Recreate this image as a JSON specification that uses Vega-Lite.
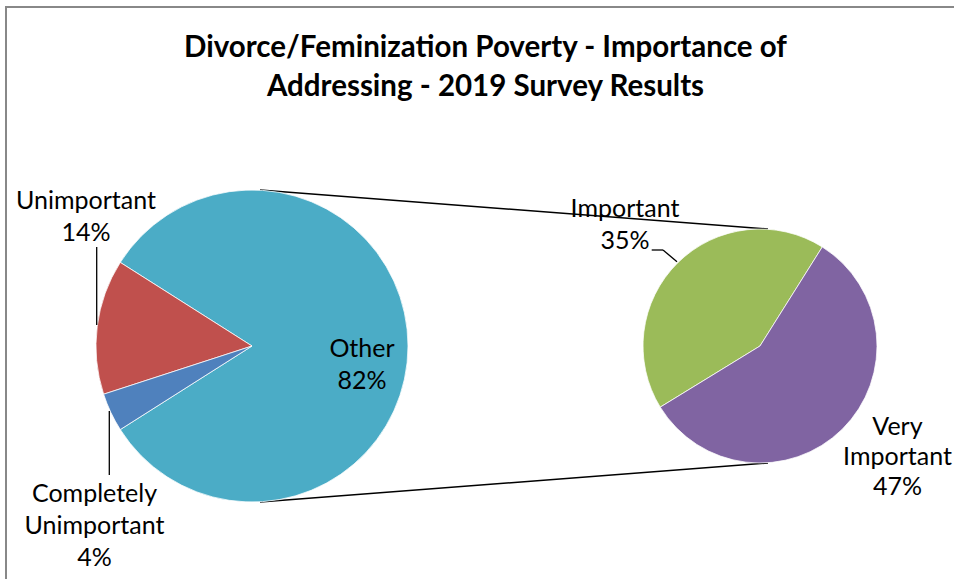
{
  "$schema": "https://vega.github.io/schema/vega-lite/v6.json",
  "width": 948,
  "height": 572,
  "autosize": {"type": "none"},
  "padding": {"left": 6, "top": 7, "right": 0, "bottom": 0},
  "background": "white",
  "config": {
    "view": {"stroke": "#888888", "strokeWidth": 2, "strokeDash": [948, 1520, 572]},
    "font": "Lato"
  },
  "title": {
    "text": ["Divorce/Feminization Poverty - Importance of", "Addressing - 2019 Survey Results"],
    "font": "Lato",
    "fontSize": 29.5,
    "fontWeight": "bold",
    "color": "#000000",
    "lineHeight": 39,
    "baseline": "alphabetic",
    "offset": -118,
    "dx": 5.5,
    "anchor": "middle"
  },
  "data": {
    "values": [
      {"pie": "Main", "category": "Other", "value": 82},
      {"pie": "Main", "category": "Unimportant", "value": 14},
      {"pie": "Main", "category": "Completely Unimportant", "value": 4},
      {"pie": "Secondary", "category": "Important", "value": 35},
      {"pie": "Secondary", "category": "Very Important", "value": 47}
    ]
  },
  "resolve": {"scale": {"theta": "independent"}},
  "layer": [
    {
      "transform": [{"filter": "datum.category === 'Other'"}],
      "mark": {"type": "rule", "color": "#000000", "strokeWidth": 1.5, "xOffset": 8, "x2Offset": 8},
      "encoding": {
        "x": {"datum": "Main", "type": "nominal", "scale": {"type": "point", "domain": ["Main", "Secondary"], "padding": 0.43307, "align": 0.55909}, "axis": null},
        "x2": {"datum": "Secondary"},
        "y": {"datum": 156, "type": "quantitative", "scale": {"domain": [-233, 339], "nice": false, "zero": false}, "axis": null},
        "y2": {"datum": 117}
      }
    },
    {
      "transform": [{"filter": "datum.category === 'Other'"}],
      "mark": {"type": "rule", "color": "#000000", "strokeWidth": 1.5, "xOffset": 8, "x2Offset": 8},
      "encoding": {
        "x": {"datum": "Main", "type": "nominal", "scale": {"type": "point", "domain": ["Main", "Secondary"], "padding": 0.43307, "align": 0.55909}, "axis": null},
        "x2": {"datum": "Secondary"},
        "y": {"datum": -156, "type": "quantitative", "scale": {"domain": [-233, 339], "nice": false, "zero": false}, "axis": null},
        "y2": {"datum": -117}
      }
    },
    {
      "transform": [{"filter": "datum.pie === 'Main'"}],
      "mark": {"type": "arc", "radius": 156, "stroke": "#ffffff", "strokeWidth": 0.75},
      "encoding": {
        "x": {"field": "pie", "type": "nominal", "scale": {"type": "point", "domain": ["Main", "Secondary"], "padding": 0.43307, "align": 0.55909}, "axis": null},
        "y": {"datum": 0, "type": "quantitative", "scale": {"domain": [-233, 339], "nice": false, "zero": false}, "axis": null},
        "theta": {"field": "value", "type": "quantitative", "stack": true, "scale": {"domain": [0, 100], "range": [4.39823, 10.68142]}},
        "order": {"field": "category", "sort": "descending"},
        "color": {
          "field": "category",
          "type": "nominal",
          "scale": {
            "domain": ["Other", "Unimportant", "Completely Unimportant", "Important", "Very Important"],
            "range": ["#4BACC6", "#C0504D", "#4F81BD", "#9BBB59", "#8064A2"]
          },
          "legend": null
        }
      }
    },
    {
      "transform": [{"filter": "datum.pie === 'Secondary'"}],
      "mark": {"type": "arc", "radius": 117, "stroke": "#ffffff", "strokeWidth": 0.75},
      "encoding": {
        "x": {"field": "pie", "type": "nominal", "scale": {"type": "point", "domain": ["Main", "Secondary"], "padding": 0.43307, "align": 0.55909}, "axis": null},
        "y": {"datum": 0, "type": "quantitative", "scale": {"domain": [-233, 339], "nice": false, "zero": false}, "axis": null},
        "theta": {"field": "value", "type": "quantitative", "stack": true, "scale": {"domain": [0, 82], "range": [4.1626, 10.4458]}},
        "order": {"field": "category", "sort": "ascending"},
        "color": {"field": "category", "type": "nominal", "legend": null}
      }
    },
    {
      "transform": [{"filter": "datum.category === 'Unimportant'"}],
      "mark": {"type": "rule", "color": "#000000", "strokeWidth": 1.3, "xOffset": -155.3},
      "encoding": {
        "x": {"field": "pie", "type": "nominal"},
        "y": {"datum": 99, "type": "quantitative"},
        "y2": {"datum": 21}
      }
    },
    {
      "transform": [{"filter": "datum.category === 'Completely Unimportant'"}],
      "mark": {"type": "rule", "color": "#000000", "strokeWidth": 1.3, "xOffset": -142.7},
      "encoding": {
        "x": {"field": "pie", "type": "nominal"},
        "y": {"datum": -65, "type": "quantitative"},
        "y2": {"datum": -129}
      }
    },
    {
      "transform": [{"filter": "datum.category === 'Important'"}],
      "mark": {"type": "rule", "color": "#000000", "strokeWidth": 1.3, "xOffset": -108.3, "x2Offset": -97},
      "encoding": {
        "x": {"field": "pie", "type": "nominal"},
        "x2": {"field": "pie"},
        "y": {"datum": 96, "type": "quantitative"},
        "y2": {"datum": 96}
      }
    },
    {
      "transform": [{"filter": "datum.category === 'Important'"}],
      "mark": {"type": "rule", "color": "#000000", "strokeWidth": 1.3, "xOffset": -97, "x2Offset": -83},
      "encoding": {
        "x": {"field": "pie", "type": "nominal"},
        "x2": {"field": "pie"},
        "y": {"datum": 96, "type": "quantitative"},
        "y2": {"datum": 84.3}
      }
    },
    {
      "transform": [{"filter": "datum.category === 'Unimportant'"}],
      "mark": {"type": "text", "text": {"expr": "replace(datum.category, ' ', '\\n') + '\\n' + datum.value + '%'"}, "lineBreak": "\n", "lineHeight": 32, "align": "center", "baseline": "alphabetic", "font": "Lato", "fontSize": 25, "color": "#000000", "dx": -166},
      "encoding": {
        "x": {"field": "pie", "type": "nominal"},
        "y": {"datum": 137, "type": "quantitative"}
      }
    },
    {
      "transform": [{"filter": "datum.category === 'Completely Unimportant'"}],
      "mark": {"type": "text", "text": {"expr": "replace(datum.category, ' ', '\\n') + '\\n' + datum.value + '%'"}, "lineBreak": "\n", "lineHeight": 32, "align": "center", "baseline": "alphabetic", "font": "Lato", "fontSize": 25, "color": "#000000", "dx": -157.5},
      "encoding": {
        "x": {"field": "pie", "type": "nominal"},
        "y": {"datum": -156, "type": "quantitative"}
      }
    },
    {
      "transform": [{"filter": "datum.category === 'Other'"}],
      "mark": {"type": "text", "text": {"expr": "replace(datum.category, ' ', '\\n') + '\\n' + datum.value + '%'"}, "lineBreak": "\n", "lineHeight": 32, "align": "center", "baseline": "alphabetic", "font": "Lato", "fontSize": 25, "color": "#000000", "dx": 110},
      "encoding": {
        "x": {"field": "pie", "type": "nominal"},
        "y": {"datum": -11, "type": "quantitative"}
      }
    },
    {
      "transform": [{"filter": "datum.category === 'Important'"}],
      "mark": {"type": "text", "text": {"expr": "replace(datum.category, ' ', '\\n') + '\\n' + datum.value + '%'"}, "lineBreak": "\n", "lineHeight": 32, "align": "center", "baseline": "alphabetic", "font": "Lato", "fontSize": 25, "color": "#000000", "dx": -135},
      "encoding": {
        "x": {"field": "pie", "type": "nominal"},
        "y": {"datum": 129.3, "type": "quantitative"}
      }
    },
    {
      "transform": [{"filter": "datum.category === 'Very Important'"}],
      "mark": {"type": "text", "text": {"expr": "replace(datum.category, ' ', '\\n') + '\\n' + datum.value + '%'"}, "lineBreak": "\n", "lineHeight": 30, "align": "center", "baseline": "alphabetic", "font": "Lato", "fontSize": 25, "color": "#000000", "dx": 137.5},
      "encoding": {
        "x": {"field": "pie", "type": "nominal"},
        "y": {"datum": -89, "type": "quantitative"}
      }
    }
  ]
}
